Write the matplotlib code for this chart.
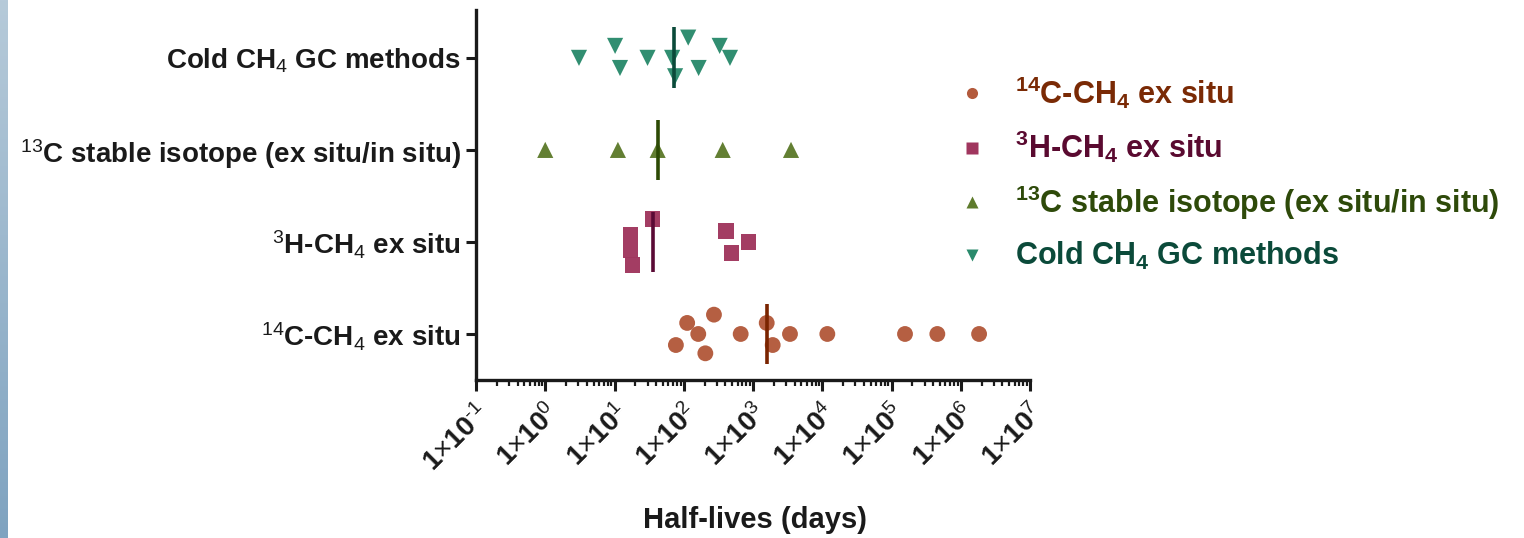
import numpy as np
import matplotlib
matplotlib.use("Agg")
import matplotlib.pyplot as plt
from matplotlib.lines import Line2D
from matplotlib.ticker import LogLocator, FixedLocator, NullFormatter
from matplotlib.colors import LinearSegmentedColormap

plt.rcParams['font.family'] = ['Liberation Sans', 'DejaVu Sans']
plt.rcParams['mathtext.fontset'] = 'custom'
plt.rcParams['mathtext.rm'] = 'Liberation Sans'
plt.rcParams['mathtext.bf'] = 'Liberation Sans:bold'
plt.rcParams['mathtext.it'] = 'Liberation Sans:italic'

# ---------------- data (half-lives in days) ----------------
categories = ["14C", "3H", "13C", "Cold"]
c14_values = [77, 112, 162, 205, 273, 664, 1578, 1925, 3420, 11840, 156700, 459000, 1840000]
c14_jitter = [-0.12, 0.12, 0.0, -0.21, 0.21, 0.0, 0.12, -0.12, 0.0, 0.0, 0.0, 0.0, 0.0]
h3_values = [17.1, 17.1, 18.3, 35.6, 408, 486, 865]
h3_jitter = [0.08, -0.09, -0.25, 0.25, 0.12, -0.12, 0.0]
c13_values = [1.0, 11.2, 42, 365, 3540]
c13_jitter = [0.0, 0.0, 0.0, 0.0, 0.0]
cold_values = [3.07, 10.2, 12, 30, 68, 75, 116, 164, 330, 465]
cold_jitter = [0.0, 0.13, -0.11, 0.0, 0.0, -0.2, 0.22, -0.11, 0.13, 0.0]

ytick_labels = [r"$^{14}$C-CH$_{4}$ ex situ",
                r"$^{3}$H-CH$_{4}$ ex situ",
                r"$^{13}$C stable isotope (ex situ/in situ)",
                r"Cold CH$_{4}$ GC methods"]
legend_labels = [r"$^{\mathbf{14}}$C-CH$_{\mathbf{4}}$ ex situ",
                 r"$^{\mathbf{3}}$H-CH$_{\mathbf{4}}$ ex situ",
                 r"$^{\mathbf{13}}$C stable isotope (ex situ/in situ)",
                 r"Cold CH$_{\mathbf{4}}$ GC methods"]
xtick_exponents = [-1, 0, 1, 2, 3, 4, 5, 6, 7]
xlabel = "Half-lives (days)"

# ---------------- styles ----------------
markers = ["o", "s", "^", "v"]
fill_colors = ["#b35a3c", "#a0365e", "#5e7b2c", "#2a8a6c"]
median_colors = ["#7a2400", "#5a0a35", "#2d4a05", "#0b4a3a"]
text_colors = ["#7a2a05", "#5a0a30", "#2e4a0a", "#0b4a3a"]
msizes = [130, 125, 135, 135]


def exp_label(e):
    s = str(e).replace("-", "\u2010")
    return "1$\\times$10$^{%s}$" % s


W, H = 1524, 538
fig = plt.figure(figsize=(W / 100, H / 100), dpi=100)
fig.patch.set_facecolor("white")

# left gradient strip
gax = fig.add_axes([0, 0, 8 / W, 1])
grad = np.linspace(0, 1, 256).reshape(-1, 1)
cmap = LinearSegmentedColormap.from_list("strip", ["#b6cad9", "#7fa3c0"])
gax.imshow(grad, aspect="auto", cmap=cmap, extent=[0, 1, 0, 1], origin="upper")
gax.axis("off")

ax = fig.add_axes([476 / W, 1 - 380 / H, (1030 - 476) / W, (380 - 10) / H])

all_values = [c14_values, h3_values, c13_values, cold_values]
all_jitter = [c14_jitter, h3_jitter, c13_jitter, cold_jitter]
for i, (vals, jit) in enumerate(zip(all_values, all_jitter)):
    ypos = i + np.array(jit)
    ax.scatter(vals, ypos, marker=markers[i], s=msizes[i], c=fill_colors[i],
               edgecolors="none", zorder=3, alpha=0.97)
    med = np.median(vals)
    ax.plot([med, med], [i - 0.33, i + 0.33], color=median_colors[i], lw=2.6,
            zorder=4, solid_capstyle="butt")

ax.set_xscale("log")
ax.set_xlim(10.0 ** xtick_exponents[0], 10.0 ** xtick_exponents[-1])
ax.set_ylim(-0.5, 3.52)

ax.xaxis.set_major_locator(FixedLocator([10.0 ** e for e in xtick_exponents]))
ax.xaxis.set_minor_locator(LogLocator(base=10, subs=np.arange(2, 10)))
ax.xaxis.set_minor_formatter(NullFormatter())
ax.set_xticklabels([exp_label(e) for e in xtick_exponents],
                   rotation=45, ha="right", va="top", rotation_mode="anchor",
                   fontsize=20, fontweight="bold")
for lab in ax.get_xticklabels():
    lab.set_color("#1a1a1a")

ax.set_yticks(range(len(categories)))
ax.set_yticklabels(ytick_labels, fontsize=20, fontweight="bold", color="#1a1a1a")

for s in ["top", "right"]:
    ax.spines[s].set_visible(False)
for s in ["left", "bottom"]:
    ax.spines[s].set_linewidth(2.4)
    ax.spines[s].set_color("#1a1a1a")
ax.tick_params(axis="x", which="major", length=8, width=2.2, color="#1a1a1a", pad=6)
ax.tick_params(axis="x", which="minor", length=4.5, width=1.6, color="#1a1a1a")
ax.tick_params(axis="y", which="major", length=7, width=2.2, color="#1a1a1a", pad=4)

fig.text(755 / W, 1 - 520 / H, xlabel, ha="center", va="center",
         fontsize=21, fontweight="bold", color="#1a1a1a")

handles = [Line2D([], [], marker=markers[i], linestyle="none", markersize=8,
                  markerfacecolor=fill_colors[i], markeredgecolor="none")
           for i in range(4)]
leg = fig.legend(handles, legend_labels, loc="upper left",
                 bbox_to_anchor=(948 / W, 1 - 62 / H), frameon=False,
                 prop={"weight": "bold", "size": 22}, handletextpad=1.0,
                 labelspacing=0.6, handlelength=0.8, borderaxespad=0)
for t, c in zip(leg.get_texts(), text_colors):
    t.set_color(c)

fig.savefig("out.png", dpi=100, facecolor="white")
